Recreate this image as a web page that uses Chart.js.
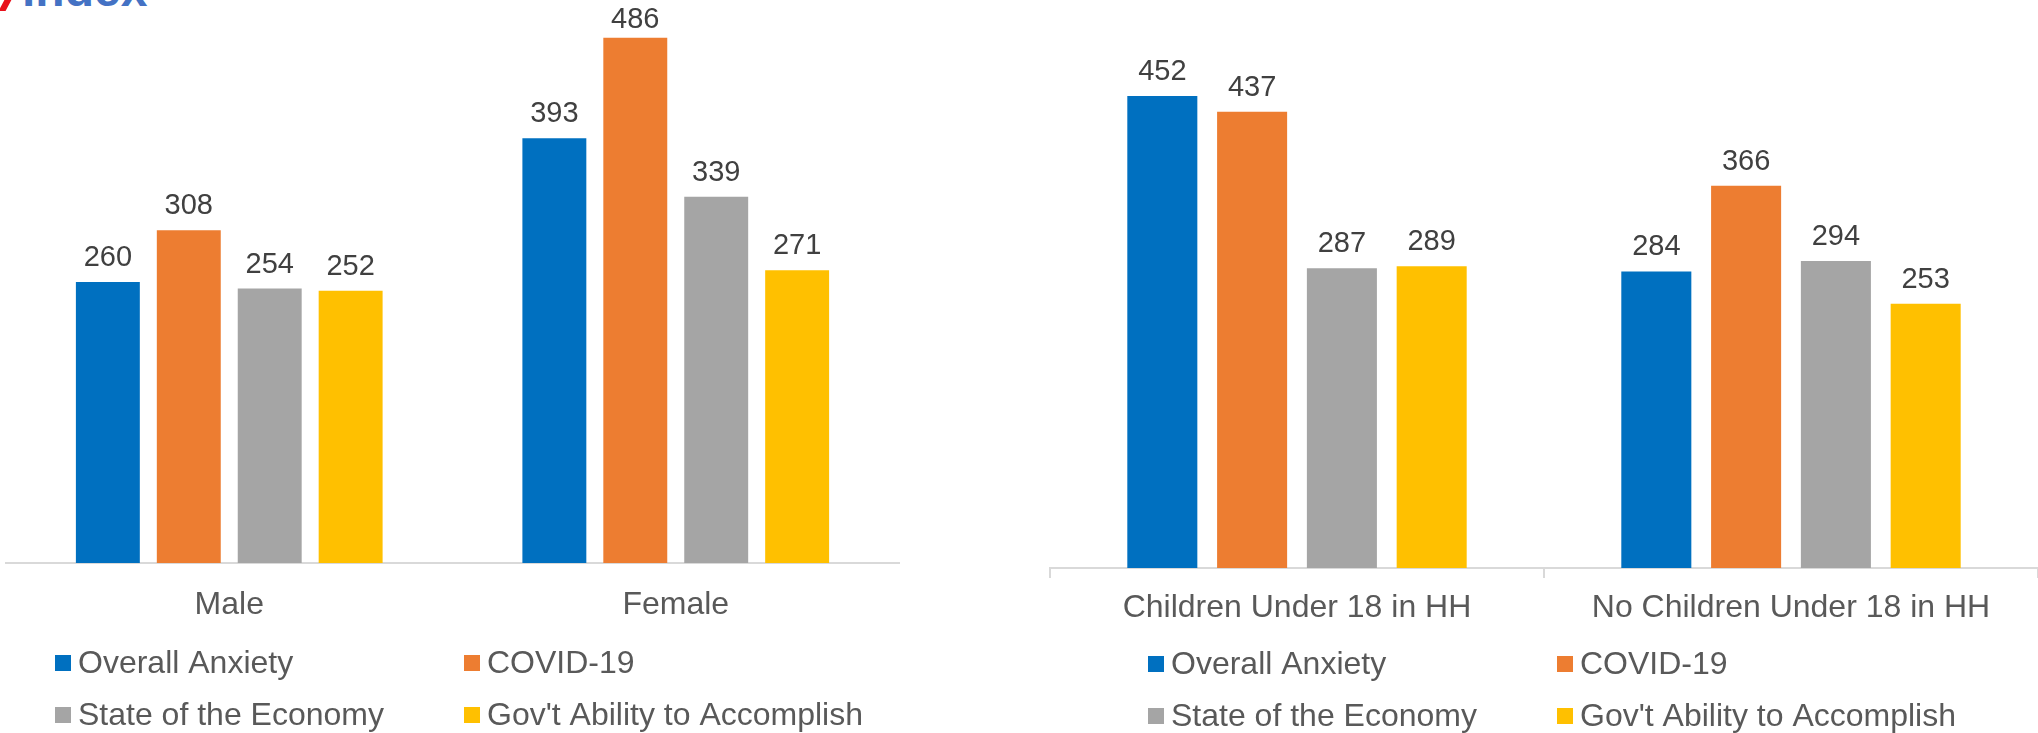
<!DOCTYPE html>
<html>
<head>
<meta charset="utf-8">
<title>Anxiety Index</title>
<script src="https://cdn.jsdelivr.net/npm/chart.js@4.4.1/dist/chart.umd.min.js"></script>
<style>
  body {
    margin: 0;
    width: 2038px;
    height: 733px;
    overflow: hidden;
    position: relative;
    background: #fff;
    font-family: "Liberation Sans", Arial, sans-serif;
  }
  .logo {
    position: absolute;
    left: 22px;
    top: -34px;
    font: bold 48px/1 "Liberation Sans", Arial, sans-serif;
    color: #4472C4;
    white-space: nowrap;
  }
  .logo-mark {
    position: absolute;
    left: 2px;
    top: -2px;
    width: 7px;
    height: 13px;
    background: #E8111B;
    transform: skewX(-28deg);
  }
  #genderChart { position: absolute; left: 0; top: 0; }
  #householdChart { position: absolute; left: 1000px; top: 0; }
</style>
</head>
<body>
<div class="logo-mark"></div>
<div class="logo">index</div>
<canvas id="genderChart" width="960" height="733"></canvas>
<canvas id="householdChart" width="1038" height="733"></canvas>

<script>
const seriesNames = ['Overall Anxiety', 'COVID-19', 'State of the Economy', "Gov't Ability to Accomplish"];
const seriesColors = ['#0070C0', '#ED7D31', '#A5A5A5', '#FFC000'];

// By gender
const genderLabels = ['Male', 'Female'];
const genderOverall = [260, 393];
const genderCovid = [308, 486];
const genderEconomy = [254, 339];
const genderGov = [252, 271];

// By children in household
const householdLabels = ['Children Under 18 in HH', 'No Children Under 18 in HH'];
const householdOverall = [452, 284];
const householdCovid = [437, 366];
const householdEconomy = [287, 294];
const householdGov = [289, 253];

const FONT = '"Liberation Sans", Arial, sans-serif';

// numbers above each bar
const valueLabels = {
  id: 'valueLabels',
  afterDatasetsDraw(chart) {
    const ctx = chart.ctx;
    ctx.save();
    ctx.font = '29px ' + FONT;
    ctx.fillStyle = '#404040';
    ctx.textAlign = 'center';
    ctx.textBaseline = 'alphabetic';
    chart.data.datasets.forEach((ds, i) => {
      chart.getDatasetMeta(i).data.forEach((bar, j) => {
        // keep labels of tall bars inside the canvas
        const y = Math.max(bar.y - 16, 28);
        ctx.fillText(ds.data[j], bar.x, y);
      });
    });
    ctx.restore();
  }
};

// two-column legend under the axis
const gridLegend = {
  id: 'gridLegend',
  afterDraw(chart, args, opts) {
    const ctx = chart.ctx;
    ctx.save();
    ctx.font = '32px ' + FONT;
    ctx.textAlign = 'left';
    ctx.textBaseline = 'middle';
    chart.data.datasets.forEach((ds, i) => {
      const x = opts.cols[i % 2];
      const y = opts.rows[Math.floor(i / 2)];
      ctx.fillStyle = ds.backgroundColor;
      ctx.fillRect(x, y - 8, 16, 16);
      ctx.fillStyle = '#595959';
      ctx.fillText(ds.label, x + 23, y + 1);
    });
    ctx.restore();
  }
};

function makeChart(id, labels, series, cfg) {
  const ctx = document.getElementById(id).getContext('2d');
  return new Chart(ctx, {
    type: 'bar',
    data: {
      labels: labels,
      datasets: series.map((data, i) => ({
        label: seriesNames[i],
        data: data,
        backgroundColor: seriesColors[i],
        categoryPercentage: cfg.categoryPercentage,
        barPercentage: cfg.barPercentage
      }))
    },
    options: {
      responsive: false,
      animation: false,
      devicePixelRatio: 1,
      layout: { padding: cfg.padding },
      plugins: {
        legend: { display: false },
        tooltip: { enabled: false },
        gridLegend: cfg.legend
      },
      scales: {
        x: {
          afterFit: (scale) => { scale.height = cfg.axisHeight; },
          grid: {
            display: true,
            drawOnChartArea: false,
            drawTicks: cfg.tickLength > 0,
            tickLength: cfg.tickLength,
            color: '#D9D9D9',
            lineWidth: 2
          },
          border: { display: true, color: '#D9D9D9', width: 2 },
          ticks: {
            color: '#595959',
            padding: cfg.labelPadding,
            font: { family: FONT, size: 32 }
          }
        },
        y: { display: false, min: 0, max: cfg.yMax }
      }
    },
    plugins: [valueLabels, gridLegend]
  });
}

makeChart('genderChart', genderLabels,
  [genderOverall, genderCovid, genderEconomy, genderGov], {
    padding: { left: 6, right: 61, top: 0, bottom: 0 },
    axisHeight: 170,
    tickLength: 0,
    labelPadding: 23,
    yMax: 521,
    categoryPercentage: 0.725,
    barPercentage: 0.79,
    legend: { cols: [55, 464], rows: [663, 715] }
  });

makeChart('householdChart', householdLabels,
  [householdOverall, householdCovid, householdEconomy, householdGov], {
    padding: { left: 50, right: 0, top: 0, bottom: 0 },
    axisHeight: 165,
    tickLength: 10,
    labelPadding: 11,
    yMax: 544,
    categoryPercentage: 0.727,
    barPercentage: 0.78,
    legend: { cols: [148, 557], rows: [664, 716] }
  });
</script>
</body>
</html>
